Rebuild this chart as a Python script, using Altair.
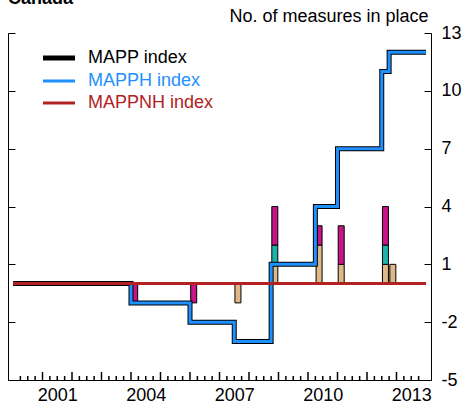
import altair as alt
import pandas as pd

# ---------------- data ----------------
series_names = ["MAPP index", "MAPPH index", "MAPPNH index"]
series_colors = ["#000000", "#1E90FF", "#B22222"]
series_widths = [5, 3, 3]

# step points (quarter at which the index takes the new value)
index_quarters = ["2000Q1", "2004Q1", "2006Q1", "2007Q3", "2008Q4",
                  "2010Q2", "2011Q1", "2012Q3", "2012Q4", "2014Q1"]
mapp_values = [0, -1, -2, -3, 1, 4, 7, 11, 12, 12]
mapph_values = [0, -1, -2, -3, 1, 4, 7, 11, 12, 12]
mappnh_quarters = ["2000Q1", "2014Q1"]
mappnh_values = [0, 0]

# quarterly changes in measures, by type
bar_quarters = ["2004Q1", "2006Q1", "2007Q3", "2008Q4",
                "2010Q2", "2011Q1", "2012Q3", "2012Q4"]
type_a = [0, 0, -1, 1, 2, 1, 1, 1]     # tan
type_b = [0, 0, 0, 1, 0, 0, 1, 0]      # teal
type_c = [-1, -1, 0, 2, 1, 2, 2, 0]    # magenta
bar_types = ["Type A", "Type B", "Type C"]
bar_colors = ["#DEB887", "#20B2AA", "#C71585"]

y_ticks = [-5, -2, 1, 4, 7, 10, 13]
year_labels = [2001, 2004, 2007, 2010, 2013]


def qdec(q):
    y, n = q.split("Q")
    return int(y) + (int(n) - 1) / 4


# ---------------- tables ----------------
line_rows = []
for name, qs, vals in [("MAPP index", index_quarters, mapp_values),
                       ("MAPPH index", index_quarters, mapph_values),
                       ("MAPPNH index", mappnh_quarters, mappnh_values)]:
    for q, v in zip(qs, vals):
        line_rows.append({"t": qdec(q), "v": v, "series": name})
lines = pd.DataFrame(line_rows)

bar_rows = []
for i, q in enumerate(bar_quarters):
    for k, (cat, vals) in enumerate(zip(bar_types, [type_a, type_b, type_c])):
        if vals[i] != 0:
            bar_rows.append({"t": qdec(q) + 0.125, "v": vals[i], "cat": cat, "ord": k})
bars_df = pd.DataFrame(bar_rows)

quarter_ticks = [2000 + k / 4 for k in range(1, 56) if k % 4 != 0]
year_ticks = list(range(2001, 2014))
label_ticks = [y + 0.5 for y in year_labels]

W, H = 423, 347
FONT = "Liberation Sans"
xs = alt.Scale(domain=[2000, 2014], nice=False, zero=False)
ys = alt.Scale(domain=[-5, 13], nice=False, zero=False)

color_scale = alt.Scale(domain=series_names, range=series_colors)
label_color_expr = " : ".join(
    [f"datum.label == '{n}' ? '{c}'" for n, c in zip(series_names[:-1], series_colors[:-1])]
) + f" : '{series_colors[-1]}'"
width_expr = " : ".join(
    [f"datum.label == '{n}' ? {w}" for n, w in zip(series_names[:-1], series_widths[:-1])]
) + f" : {series_widths[-1]}"

legend = alt.Legend(
    title=None, orient="none", legendX=42, legendY=16, padding=0,
    symbolType="M-4,0H4", symbolSize=64, symbolStrokeWidth={"expr": width_expr},
    labelOffset=20, rowPadding=4, labelFontSize=18, labelFont=FONT,
    labelColor={"expr": label_color_expr}, labelLimit=300,
)

# ---------------- inward x-axis ticks (minor quarterly, major yearly) ----------------
def tick_layer(values, size):
    return alt.Chart(pd.DataFrame({"t": values})).mark_rule(
        color="black", strokeWidth=1.5, opacity=1
    ).encode(
        x=alt.X("t:Q", scale=xs, axis=None),
        y=alt.value(H - size),
        y2=alt.value(H),
    )

minor_ticks = tick_layer(quarter_ticks, 4)
major_ticks = tick_layer(year_ticks, 8)

# ---------------- bars ----------------
bars = alt.Chart(bars_df).mark_bar(size=6, stroke="black", strokeWidth=1, orient="vertical").encode(
    x=alt.X("t:Q", scale=xs, axis=None),
    y=alt.Y("v:Q", scale=ys, stack="zero",
            axis=alt.Axis(orient="right", values=y_ticks, tickSize=7, offset=-7, domain=False,
                          grid=False, labelPadding=10, title=None, labelAlign="left",
                          labelBaseline="middle", labelExpr="'' + datum.value", zindex=1)),
    fill=alt.Fill("cat:N", scale=alt.Scale(domain=bar_types, range=bar_colors), legend=None),
    order=alt.Order("ord:Q"),
)

def line_layer(name, width, xaxis, yaxis):
    return alt.Chart(lines[lines.series == name]).mark_line(
        interpolate="step-after", strokeWidth=width, strokeJoin="miter"
    ).encode(
        x=alt.X("t:Q", scale=xs, axis=xaxis),
        y=alt.Y("v:Q", scale=ys, axis=yaxis),
        color=alt.Color("series:N", scale=color_scale, legend=legend),
    )

black = line_layer(
    "MAPP index", series_widths[0],
    None,
    alt.Axis(orient="right", domain=True, ticks=False, labels=False, grid=False,
             title="No. of measures in place", titleAngle=0, titleAlign="right",
             titleBaseline="alphabetic", titleX=-3, titleY=-12, titleFontSize=18,
             titleFontWeight="normal", titleFont=FONT, zindex=1),
)
blue = line_layer(
    "MAPPH index", series_widths[1],
    alt.Axis(orient="bottom", values=label_ticks, ticks=False, domain=True, grid=False, labelPadding=6,
             labelExpr="'' + floor(datum.value)", title=None, zindex=1),
    alt.Axis(orient="left", values=y_ticks, tickSize=7, offset=-7, domain=False, labels=False,
             grid=False, title=None, zindex=1),
)
red = line_layer(
    "MAPPNH index", series_widths[2],
    None,
    alt.Axis(orient="left", domain=True, ticks=False, labels=False, grid=False, title=None, zindex=1),
)

chart = alt.layer(bars, black, blue, red, minor_ticks, major_ticks).resolve_axis(
    x="independent", y="independent"
).properties(
    width=W, height=H,
    autosize=alt.AutoSizeParams(type="none"),
    padding={"left": 8, "top": 33, "right": 33, "bottom": 24},
    title=alt.TitleParams("Canada", anchor="start", fontSize=18, fontWeight="bold",
                          font=FONT, frame="group", dy=5),
).configure_view(stroke=None).configure_axis(
    labelFont=FONT, labelFontSize=18, labelColor="black",
    domainColor="black", tickColor="black", domainWidth=1, tickWidth=1,
)

chart.save("out.html", embed_options={"renderer": "svg", "actions": False})
